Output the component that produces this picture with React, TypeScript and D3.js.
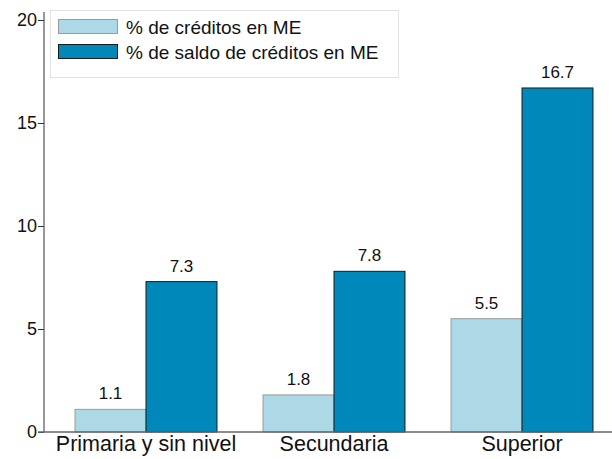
import { useEffect, useRef } from "react";
import * as d3 from "d3";

const categories = ["Primaria y sin nivel", "Secundaria", "Superior"];
const seriesNames = ["% de créditos en ME", "% de saldo de créditos en ME"];
const creditos = [1.1, 1.8, 5.5];
const saldo = [7.3, 7.8, 16.7];
const yTicks = [0, 5, 10, 15, 20];

const fills = ["#ADD8E6", "#0088BB"];
const strokes = ["#9a9a9a", "#1a1a1a"];

export default function App() {
  const svgRef = useRef<SVGSVGElement | null>(null);

  useEffect(() => {
    const el = svgRef.current;
    if (!el) return;
    const W = 612;
    const H = 459;
    const font = "Liberation Sans, Arial, sans-serif";

    d3.select(el).selectAll("*").remove();
    const svg = d3.select(el).attr("viewBox", `0 0 ${W} ${H}`);

    const x = d3.scaleBand<string>().domain(categories).range([52, 616])
      .paddingInner(0.245).paddingOuter(0.1225);
    const xs = d3.scaleBand<number>().domain([0, 1]).range([0, x.bandwidth()]);
    const y = d3.scaleLinear().domain([0, 20]).range([432, 20]);

    // Bars
    const series = [creditos, saldo];
    series.forEach((vals, si) => {
      svg.append("g").selectAll("rect")
        .data(vals)
        .join("rect")
        .attr("x", (_, i) => (x(categories[i]) ?? 0) + (xs(si) ?? 0))
        .attr("y", d => y(d))
        .attr("width", xs.bandwidth())
        .attr("height", d => y(0) - y(d))
        .attr("fill", fills[si])
        .attr("stroke", strokes[si])
        .attr("stroke-width", 1);

      svg.append("g").selectAll("text")
        .data(vals)
        .join("text")
        .attr("x", (_, i) => (x(categories[i]) ?? 0) + (xs(si) ?? 0) + xs.bandwidth() / 2)
        .attr("y", d => y(d) - 10)
        .attr("text-anchor", "middle")
        .attr("font-family", font)
        .attr("font-size", 17)
        .attr("fill", "#111")
        .text(d => d.toFixed(1));
    });

    // Y axis
    svg.append("g").attr("transform", "translate(44,0)")
      .call(d3.axisLeft(y).tickValues(yTicks).tickSize(6).tickPadding(1).tickFormat(d => `${d}`))
      .call(ax => ax.select(".domain").attr("d", `M0,12V432`).attr("stroke", "#333"))
      .call(ax => ax.selectAll("line").attr("stroke", "#333"))
      .call(ax => ax.selectAll("text").attr("fill", "#111").attr("font-size", 18).attr("font-family", font));

    // X axis
    svg.append("g").attr("transform", "translate(0,432)")
      .call(d3.axisBottom(x).tickSize(0).tickPadding(3.7))
      .call(ax => ax.select(".domain").attr("d", "M38,0H612").attr("stroke", "#666").attr("stroke-width", 1.5))
      .call(ax => ax.selectAll("text").attr("fill", "#111").attr("font-size", 21.5).attr("font-family", font));

    // Legend
    const lg = svg.append("g");
    lg.append("rect")
      .attr("x", 50.5).attr("y", 10.5).attr("width", 348).attr("height", 67)
      .attr("fill", "#fff").attr("stroke", "#e2e2e2");
    seriesNames.forEach((name, i) => {
      lg.append("rect")
        .attr("x", 58.5).attr("y", 19.5 + i * 25).attr("width", 59).attr("height", 14)
        .attr("fill", fills[i]).attr("stroke", strokes[i]);
      lg.append("text")
        .attr("x", 126).attr("y", 33.5 + i * 25)
        .attr("font-family", font).attr("font-size", 19)
        .attr("fill", "#111")
        .text(name);
    });
  }, []);

  return (
    <div style={{ position: "absolute", top: 0, left: 0, width: 612, height: 459 }}>
      <svg ref={svgRef} width={612} height={459} style={{ display: "block" }} />
    </div>
  );
}
